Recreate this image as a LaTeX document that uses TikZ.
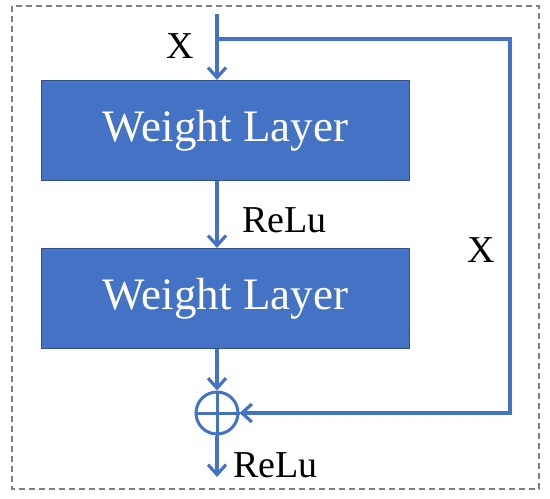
\documentclass[tikz,border=0pt]{standalone}
\usepackage{fontspec}
\setmainfont{Liberation Serif}
\usetikzlibrary{arrows.meta}
\definecolor{blu}{HTML}{4472C4}
\definecolor{bluedge}{HTML}{2F528F}
\begin{document}
\begin{tikzpicture}[x=1pt,y=-1pt,
  wbox/.style={draw=bluedge,line width=1.2pt,fill=blu,minimum width=368pt,minimum height=100pt,inner sep=0pt,text=white,font=\fontsize{45}{50}\selectfont},
  conn/.style={draw=blu,line width=3.6pt},
  arr/.style={conn,-{Straight Barb[length=10pt,width=18pt,line width=3.2pt]}},
  lbl/.style={inner sep=0pt,font=\fontsize{38}{42}\selectfont}]
\useasboundingbox (0,0) rectangle (550,499);
\draw[gray,line width=1.3pt,dash pattern=on 6pt off 4pt] (12,6) rectangle (539,489);
\node[wbox] (w1) at (225.5,130.5) {Weight Layer};
\node[wbox] (w2) at (225.5,298.5) {Weight Layer};
\node[draw=blu,line width=3pt,circle,minimum size=42pt,inner sep=0pt] (p) at (217,413) {};
\draw[blu,line width=3pt] (p.north) -- (p.south) (p.west) -- (p.east);
\coordinate (top) at (217,14);
\coordinate (br) at (217,39);
\coordinate (c1) at (510,39);
\coordinate (c2) at (510,413);
\coordinate (out) at (217,477);
\draw[arr] (top) -- (w1.north -| top);
\draw[arr,line cap=rect] (br) -- (c1) -- (c2) -- (p.east);
\draw[arr] (w1.south -| top) -- (w2.north -| top);
\draw[arr] (w2.south -| top) -- (p.north);
\draw[arr] (p.south) -- (out);
\node[lbl,anchor=base] (x1) at (180,58) {X};
\node[lbl,anchor=base] (x2) at (481.5,262) {X};
\node[lbl,anchor=base west] (r1) at (242,232) {ReLu};
\node[lbl,anchor=base west] (r2) at (233,477) {ReLu};
\end{tikzpicture}
\end{document}
